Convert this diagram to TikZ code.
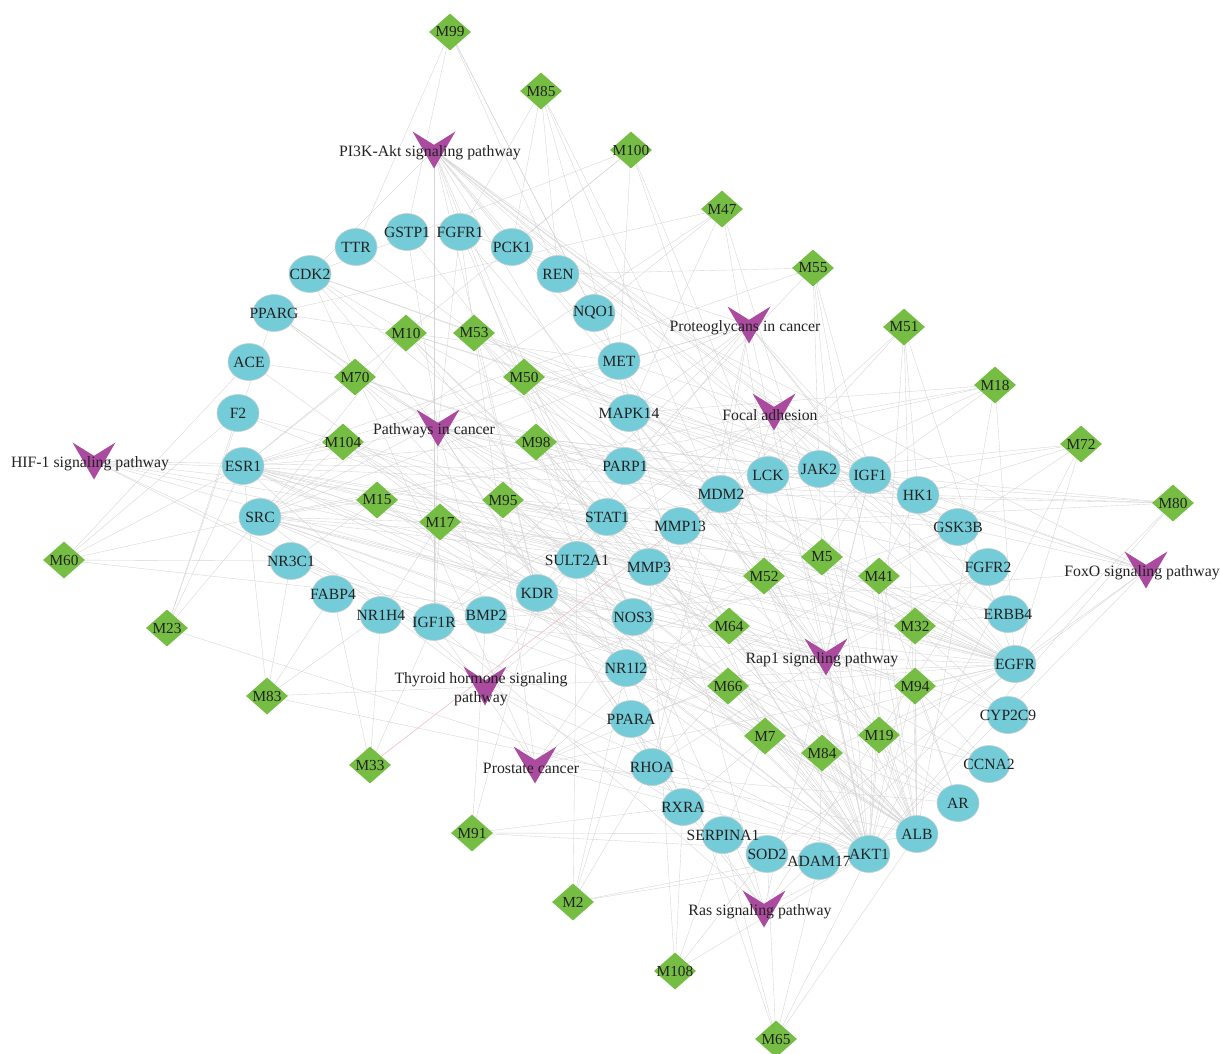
\documentclass[tikz,border=0pt]{standalone}
\usepackage{fontspec}
\setmainfont{Liberation Serif}
\usetikzlibrary{shapes.geometric,calc}
\definecolor{genec}{RGB}{116,204,216}
\definecolor{genebd}{RGB}{196,206,208}
\definecolor{compc}{RGB}{118,189,68}
\definecolor{pwc}{RGB}{170,75,160}
\definecolor{txtc}{RGB}{34,34,34}
\definecolor{edgec}{RGB}{212,212,212}
\definecolor{pinkc}{RGB}{244,190,198}
\newcommand\zt[1]{\makebox[0pt]{#1}}
\newcommand\pwl[1]{\makebox[0pt]{\raisebox{-3pt}[\height][\depth]{#1}\hspace{8pt}}}
\pgfdeclarelayer{back}
\pgfdeclarelayer{edges}
\pgfsetlayers{back,edges,main}
\tikzset{
  gene/.style={ellipse, fill=genec, draw=genebd, line width=0.6pt,
    minimum width=42pt, minimum height=37pt, inner sep=0pt,
    font=\fontsize{15.6}{17}\selectfont, text=txtc},
  comp/.style={diamond, fill=compc, minimum width=42pt, minimum height=37pt,
    inner sep=0pt, font=\fontsize{15.3}{17}\selectfont, text=txtc},
  pway/.style={rectangle, minimum width=43pt, minimum height=37pt, inner sep=0pt,
    font=\fontsize{15.8}{19.5}\selectfont, text=txtc,
    path picture={\fill[pwc] (path picture bounding box.north west)
      -- ($(path picture bounding box.north)!0.36!(path picture bounding box.south)$)
      -- (path picture bounding box.north east)
      -- (path picture bounding box.south) -- cycle;}},
  edge/.style={draw=edgec, line width=0.35pt},
  pinkedge/.style={draw=pinkc, line width=0.6pt}
}
\begin{document}
\begin{tikzpicture}[x=1pt,y=-1pt]
\begin{pgfonlayer}{back}
\fill[white] (0,0) rectangle (1220,1053);
\end{pgfonlayer}
\useasboundingbox (0,0) rectangle (1220,1053);
% ---------------- genes
\foreach \n/\x/\y in {TTR/356/247, GSTP1/407/232, FGFR1/460/232, PCK1/512/247,
  REN/558/274, NQO1/594/313, MET/619/361, MAPK14/629/413, PARP1/625/466,
  STAT1/607/517, SULT2A1/577/560, MMP3/649/567, MMP13/680/526, MDM2/721/494,
  LCK/768/475, JAK2/819/469, IGF1/870/475, HK1/918/495, GSK3B/958/527,
  FGFR2/988/567, ERBB4/1008/614, EGFR/1015/664, CYP2C9/1008/715, CCNA2/989/764,
  AR/958/803, ALB/917/834, AKT1/869/854, ADAM17/819/861, SOD2/767/854,
  SERPINA1/723/835, RXRA/683/807, RHOA/652/767, PPARA/631/719, NR1I2/626/668,
  NOS3/633/617, KDR/537/593, BMP2/486/615, IGF1R/434/622, NR1H4/381/615,
  FABP4/333/594, NR3C1/291/561, SRC/260/517, ESR1/243/466, F2/238/413,
  ACE/249/362, PPARG/274/313, CDK2/310/274}
  \node[gene] (\n) at (\x,\y) {\zt{\n}};
% ---------------- compounds
\foreach \n/\x/\y in {M99/450/32, M85/541/91, M100/631/150, M47/722/209,
  M55/813/268, M51/904/327, M18/995/385, M72/1081/444, M80/1173/503,
  M10/406/333, M53/474/333, M70/355/377, M50/524/377, M104/343/442,
  M98/536/442, M15/377/500, M95/503/500, M17/440/522, M60/64/560,
  M23/167/628, M83/267/696, M33/370/765, M91/472/833, M2/573/902,
  M108/675/971, M65/776/1039, M5/822/557, M52/764/576, M41/879/576,
  M64/729/626, M32/915/626, M66/728/686, M94/915/686, M7/765/736,
  M84/822/753, M19/879/735}
  \node[comp] (\n) at (\x,\y) {\zt{\n}};
% ---------------- pathways
\node[pway] (PI3K) at (434,150) {\pwl{PI3K-Akt signaling pathway}};
\node[pway] (Proteo) at (749,325) {\pwl{Proteoglycans in cancer}};
\node[pway] (Focal) at (774,412) {\pwl{Focal adhesion}};
\node[pway] (PinC) at (438,428) {\pwl{Pathways in cancer}};
\node[pway] (HIF) at (94,461) {\pwl{HIF-1 signaling pathway}};
\node[pway] (FoxO) at (1146,570) {\pwl{FoxO signaling pathway}};
\node[pway] (Rap1) at (826,657) {\pwl{Rap1 signaling pathway}};
\node[pway] (Thyroid) at (485,686) {\pwl{\begin{tabular}{@{}c@{}}Thyroid hormone signaling\\pathway\end{tabular}}};
\node[pway] (Prostate) at (535,765) {\pwl{Prostate cancer}};
\node[pway] (Ras) at (764,909) {\pwl{Ras signaling pathway}};
% ---------------- edges
\begin{pgfonlayer}{edges}
\foreach \p/\gs in {
  PI3K/{FGFR1,PCK1,MET,JAK2,IGF1,GSK3B,FGFR2,EGFR,ERBB4,KDR,NOS3,AKT1,MDM2,IGF1R,CDK2,RXRA},
  Proteo/{FGFR1,MET,ESR1,SRC,MAPK14,IGF1,IGF1R,KDR,EGFR,ERBB4,AKT1,RHOA,MDM2},
  Focal/{MET,IGF1,IGF1R,KDR,EGFR,ERBB4,AKT1,RHOA,SRC,GSK3B},
  PinC/{FGFR1,FGFR2,MET,RXRA,PPARG,STAT1,MDM2,IGF1,IGF1R,EGFR,AKT1,RHOA,AR,CDK2,GSK3B,BMP2,JAK2,GSTP1,ESR1},
  HIF/{IGF1,IGF1R,EGFR,ERBB4,AKT1,NOS3,HK1,STAT1},
  FoxO/{AKT1,GSK3B,IGF1,IGF1R,EGFR,CDK2,SOD2,MAPK14,PCK1},
  Rap1/{FGFR1,FGFR2,MET,IGF1,IGF1R,KDR,EGFR,RHOA,SRC,MAPK14,AKT1},
  Thyroid/{ESR1,SRC,MDM2,STAT1,AKT1,GSK3B,RXRA},
  Prostate/{AR,AKT1,GSK3B,IGF1,IGF1R,EGFR,FGFR1,FGFR2,MDM2,CDK2},
  Ras/{FGFR1,FGFR2,MET,IGF1,IGF1R,KDR,EGFR,RHOA,AKT1},
  M99/{GSTP1,REN,MET,TTR,NQO1},
  M85/{PCK1,REN,MAPK14,FGFR1,ALB,AKT1},
  M100/{PCK1,CDK2,MET,AKT1,ESR1,ALB},
  M47/{MAPK14,LCK,NQO1,PPARG,ALB,SRC},
  M55/{REN,JAK2,IGF1,PARP1,ESR1,AKT1,ALB},
  M51/{HK1,MDM2,LCK,ALB,EGFR,AKT1},
  M18/{MAPK14,IGF1,PARP1,MMP13,SRC,ALB,EGFR},
  M72/{HK1,GSK3B,JAK2,STAT1,AKT1,EGFR},
  M80/{IGF1,HK1,MMP13,MDM2,PARP1,EGFR,AKT1},
  M10/{PPARG,CDK2,MET,NOS3,MMP3,ALB,EGFR,SRC,IGF1,HK1},
  M53/{TTR,CDK2,MAPK14,KDR,AKT1,AR,JAK2,LCK,ALB},
  M70/{PPARG,ACE,ESR1,PARP1,NR1I2,ALB,MDM2,STAT1},
  M50/{MET,PARP1,GSTP1,SRC,AKT1,CYP2C9,HK1,GSK3B,EGFR},
  M104/{ESR1,SRC,F2,MMP3,AKT1,EGFR,NOS3,ALB,MMP13},
  M98/{PARP1,STAT1,ESR1,RHOA,ALB,AKT1,HK1,EGFR},
  M15/{ESR1,SRC,NR3C1,EGFR,AR,ALB,MMP3,AKT1},
  M95/{MMP13,KDR,STAT1,ALB,ERBB4,EGFR,AKT1,GSK3B},
  M17/{IGF1R,NR1H4,SRC,CYP2C9,AKT1,ALB,EGFR,MMP3},
  M60/{ESR1,SRC,F2,NR3C1,ACE,EGFR},
  M23/{ESR1,F2,SRC,PPARG,AKT1},
  M83/{FABP4,NR3C1,ESR1,NR1H4,ALB,EGFR},
  M33/{NR1H4,FABP4,IGF1R},
  M91/{BMP2,KDR,RXRA,AKT1,ALB},
  M2/{PPARA,RHOA,ALB,NR1I2,SULT2A1,AKT1},
  M108/{SOD2,SERPINA1,AKT1,RXRA,MMP3},
  M65/{AKT1,ADAM17,SOD2,SERPINA1,ALB,NOS3},
  M5/{IGF1,JAK2,AKT1,EGFR,SRC,ALB,ESR1,PARP1},
  M52/{MDM2,LCK,NOS3,ALB,ESR1,AKT1,EGFR,SRC},
  M41/{HK1,GSK3B,AR,AKT1,MAPK14,ALB,EGFR,ESR1},
  M64/{NR1I2,MMP3,ALB,CCNA2,PPARG,AKT1,ESR1,SRC},
  M32/{FGFR2,EGFR,ERBB4,CYP2C9,ESR1,ALB,AKT1,MAPK14},
  M66/{PPARA,RHOA,AKT1,ALB,SRC,EGFR,ESR1,NR3C1},
  M94/{EGFR,AR,CCNA2,ALB,F2,AKT1,SRC,ESR1},
  M7/{RXRA,SERPINA1,ALB,MMP13,ACE,AKT1,EGFR,SRC},
  M84/{SOD2,AKT1,ADAM17,AR,NR3C1,ALB,EGFR,ESR1},
  M19/{ALB,AKT1,EGFR,CCNA2,CDK2,SRC,ESR1,MAPK14}}
  \foreach \g in \gs {\draw[edge] (\p.center) -- (\g.center);};
\draw[pinkedge] (M33.center) -- (MDM2.center);
\end{pgfonlayer}
\end{tikzpicture}
\end{document}
